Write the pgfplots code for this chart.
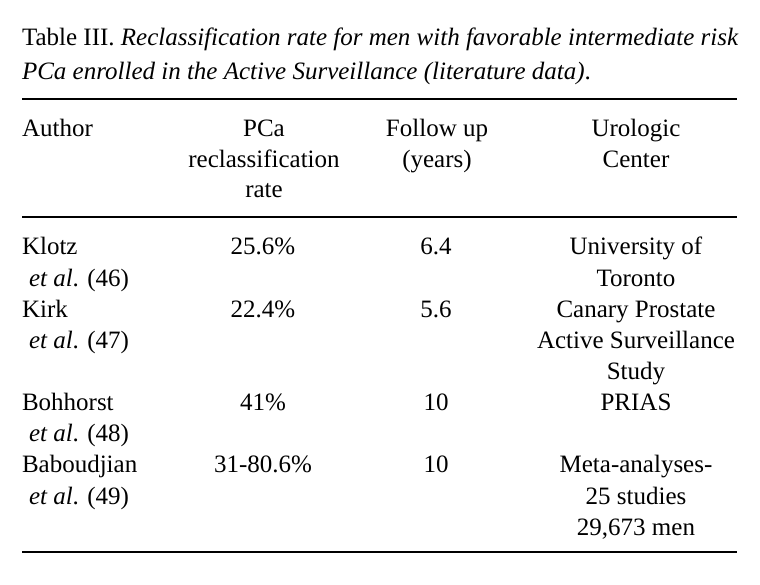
\documentclass[border=0pt]{standalone}
\usepackage{fontspec}
\setmainfont{Liberation Serif}
\usepackage{pgfplots}
\pgfplotsset{compat=1.18}
\begin{document}
\fontsize{25}{31}\selectfont
\begin{tikzpicture}
\begin{axis}[
  scale only axis, width=760pt, height=584pt,
  xmin=0, xmax=760, ymin=0, ymax=584, y dir=reverse,
  hide axis, clip=false,
]
\tikzset{txt/.style={font=\fontsize{25}{31}\selectfont, inner sep=0pt, outer sep=0pt}}
% rules
\addplot[black, line width=1.6pt] coordinates {(22,99) (737,99)};
\addplot[black, line width=1.6pt] coordinates {(22,217) (737,217)};
\addplot[black, line width=1.6pt] coordinates {(22,552) (737,552)};
% title
\node[txt, anchor=base west] at (axis cs:22,45) {Table III. \textit{Reclassification rate for men with favorable intermediate risk}};
\node[txt, anchor=base west] at (axis cs:22,79) {\textit{PCa enrolled in the Active Surveillance (literature data)}.};
% header
\node[txt, anchor=base west] at (axis cs:22,136) {Author};
\node[txt, anchor=base] at (axis cs:264,136) {PCa};
\node[txt, anchor=base] at (axis cs:264,167) {reclassification};
\node[txt, anchor=base] at (axis cs:264,197) {rate};
\node[txt, anchor=base] at (axis cs:437,136) {Follow up};
\node[txt, anchor=base] at (axis cs:437,167) {(years)};
\node[txt, anchor=base] at (axis cs:636,136) {Urologic};
\node[txt, anchor=base] at (axis cs:636,167) {Center};
% rows
\node[txt, anchor=base west] at (axis cs:22,254) {Klotz};
\node[txt, anchor=base west] at (axis cs:29,286) {\textit{et al}. (46)};
\node[txt, anchor=base] at (axis cs:263,254) {25.6\%};
\node[txt, anchor=base] at (axis cs:436,254) {6.4};
\node[txt, anchor=base] at (axis cs:636,254) {University of};
\node[txt, anchor=base] at (axis cs:636,286) {Toronto};
\node[txt, anchor=base west] at (axis cs:22,317) {Kirk};
\node[txt, anchor=base west] at (axis cs:29,348) {\textit{et al}. (47)};
\node[txt, anchor=base] at (axis cs:263,317) {22.4\%};
\node[txt, anchor=base] at (axis cs:436,317) {5.6};
\node[txt, anchor=base] at (axis cs:636,317) {Canary Prostate};
\node[txt, anchor=base] at (axis cs:636,348) {Active Surveillance};
\node[txt, anchor=base] at (axis cs:636,379) {Study};
\node[txt, anchor=base west] at (axis cs:22,410) {Bohhorst};
\node[txt, anchor=base west] at (axis cs:29,441) {\textit{et al}. (48)};
\node[txt, anchor=base] at (axis cs:263,410) {41\%};
\node[txt, anchor=base] at (axis cs:436,410) {10};
\node[txt, anchor=base] at (axis cs:636,410) {PRIAS};
\node[txt, anchor=base west] at (axis cs:22,472) {Baboudjian};
\node[txt, anchor=base west] at (axis cs:29,504) {\textit{et al}. (49)};
\node[txt, anchor=base] at (axis cs:263,472) {31-80.6\%};
\node[txt, anchor=base] at (axis cs:436,472) {10};
\node[txt, anchor=base] at (axis cs:636,472) {Meta-analyses-};
\node[txt, anchor=base] at (axis cs:636,504) {25 studies};
\node[txt, anchor=base] at (axis cs:636,535) {29,673 men};
\end{axis}
\pgfresetboundingbox
\path[use as bounding box] (current axis.south west) rectangle (current axis.north east);
\end{tikzpicture}
\end{document}
